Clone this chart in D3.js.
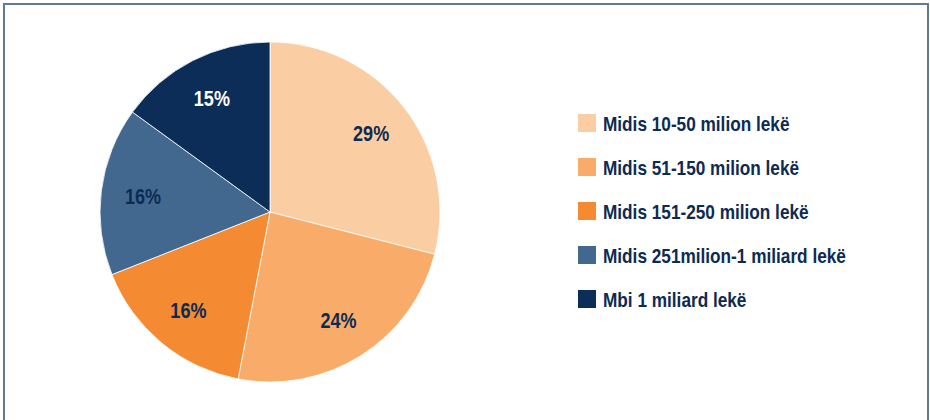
<!DOCTYPE html>
<html>
<head>
<meta charset="utf-8">
<script src="https://cdn.jsdelivr.net/npm/d3@7"></script>
<style>
  body { margin: 0; background: #fff; }
  svg { display: block; }
  text { font-family: "Liberation Sans", Arial, sans-serif; font-weight: bold; }
</style>
</head>
<body>
<svg width="930" height="420"></svg>
<script>
// kategorite dhe vlerat (%)
let categories = [
  "Midis 10-50 milion lekë",
  "Midis 51-150 milion lekë",
  "Midis 151-250 milion lekë",
  "Midis 251milion-1 miliard lekë",
  "Mbi 1 miliard lekë"
];
let values = [29, 24, 16, 16, 15];
let colors = ["#fbcda3", "#f9ab6a", "#f48a32", "#426890", "#0c2d57"];
let labelColors = ["#0d2b52", "#0d2b52", "#0d2b52", "#0d2b52", "#ffffff"];

let svg = d3.select("svg"),
  width = +svg.attr("width"),
  height = +svg.attr("height");

// narrow look (no Arial Narrow installed)
let squeeze = 0.82;

// frame
svg.append("rect")
  .attr("x", 4).attr("y", 4)
  .attr("width", 924).attr("height", 430)
  .attr("fill", "none")
  .attr("stroke", "#5f7a96")
  .attr("stroke-width", 2);

let cx = 270, cy = 212, radius = 170;

let pie = d3.pie().sort(null).value(d => d);
let arc = d3.arc().innerRadius(0).outerRadius(radius);
let labelArc = d3.arc().innerRadius(128).outerRadius(128);

let g = svg.append("g").attr("transform", `translate(${cx},${cy})`);

let slices = g.selectAll(".slice")
  .data(pie(values))
  .enter().append("g")
  .attr("class", "slice");

slices.append("path")
  .attr("d", arc)
  .attr("fill", (d, i) => colors[i])
  .attr("stroke", "#fff")
  .attr("stroke-width", 0.8);

slices.append("text")
  .attr("transform", d => `translate(${labelArc.centroid(d)}) scale(${squeeze},1)`)
  .attr("text-anchor", "middle")
  .attr("dy", "0.35em")
  .attr("font-size", 22)
  .attr("fill", (d, i) => labelColors[i])
  .text(d => d.data + "%");

// LEGEND
let legendY = d3.scaleBand()
  .domain(categories)
  .range([101, 321]);

let legend = svg.append("g")
  .selectAll("g")
  .data(categories)
  .enter().append("g")
  .attr("transform", d => `translate(578,${legendY(d) + legendY.bandwidth() / 2})`);

legend.append("rect")
  .attr("x", 0).attr("y", -9)
  .attr("width", 18).attr("height", 18)
  .attr("fill", (d, i) => colors[i]);

legend.append("text")
  .attr("transform", `translate(25,8) scale(${squeeze},1)`)
  .attr("font-size", 21)
  .attr("fill", "#0d2b52")
  .text(d => d);
</script>
</body>
</html>
